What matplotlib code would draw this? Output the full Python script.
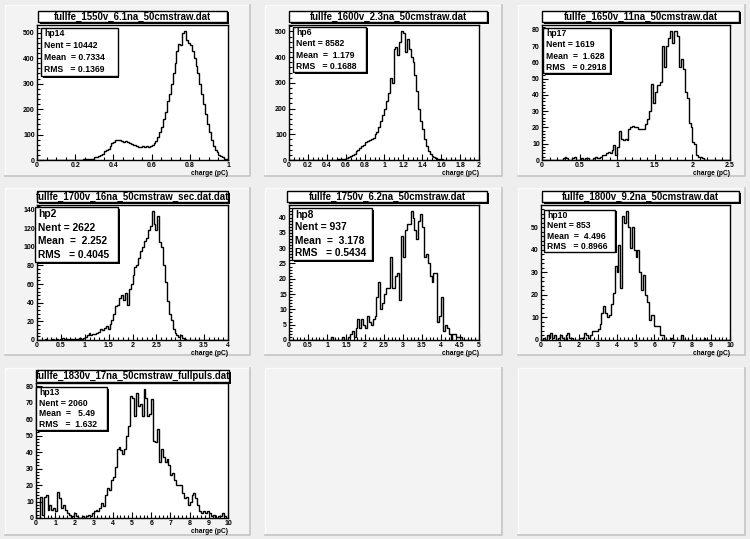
import matplotlib
matplotlib.use("Agg")
import matplotlib.pyplot as plt
import numpy as np
from matplotlib.patches import Rectangle
from matplotlib.lines import Line2D
from matplotlib.ticker import MultipleLocator

plt.rcParams['font.family'] = ['Liberation Sans', 'DejaVu Sans']
plt.rcParams['font.weight'] = 'bold'

W, H = 750, 539

# ---- data (counts per bin, 100 bins each) ----
titles = ["fullfe_1550v_6.1na_50cmstraw.dat",
          "fullfe_1600v_2.3na_50cmstraw.dat",
          "fullfe_1650v_11na_50cmstraw.dat",
          "fullfe_1700v_16na_50cmstraw_sec.dat.dat",
          "fullfe_1750v_6.2na_50cmstraw.dat",
          "fullfe_1800v_9.2na_50cmstraw.dat",
          "fullfe_1830v_17na_50cmstraw_fullpuls.dat"]
names = ["hp14", "hp6", "hp17", "hp2", "hp8", "hp10", "hp13"]
nent = ["10442", "8582", "1619", "2622", "937", "853", "2060"]
means = ["0.7334", " 1.179", " 1.628", " 2.252", " 3.178", " 4.496", "  5.49"]
rms = ["0.1369", "0.1688", "0.2918", "0.4045", "0.5434", "0.8966", " 1.632"]
xmax = [1, 2, 2.5, 4, 5, 10, 10]

hp14 = [0, 0, 0, 0, 0, 0, 0, 0, 0, 0, 0, 0, 0, 0, 0, 0, 0, 0, 0, 1,
        1, 0, 1, 1, 2, 2, 3, 3, 4, 5, 10, 12, 15, 20, 25, 35, 40, 45, 55, 65,
        72, 78, 78, 80, 75, 72, 75, 70, 68, 62, 60, 58, 55, 52, 50, 55, 52, 55, 50, 55,
        60, 65, 75, 90, 110, 130, 160, 190, 230, 260, 300, 340, 380, 430, 455, 450, 500, 505, 470, 460,
        450, 430, 400, 370, 340, 300, 260, 220, 180, 140, 110, 80, 55, 40, 30, 20, 15, 10, 5, 2]
hp6 = [0] * 25 + [1, 2, 1, 3, 5,
       8, 10, 15, 20, 25, 35, 40, 45, 55, 60, 70, 75, 78, 80, 85, 100, 110, 130, 150, 175,
       200, 230, 260, 320, 300, 430, 440, 410, 460, 500, 495, 420, 470, 430, 400, 380, 330, 270, 200, 150,
       120, 80, 55, 35, 25, 15, 12, 8, 5, 3, 2, 1, 0, 0, 0] + [0] * 15
hp17 = [0] * 10 + [0, 1, 2, 1, 0, 0, 1, 2, 0, 0,
        0, 1, 0, 1, 1, 0, 0, 1, 2, 1, 1, 2, 3, 3, 4, 5, 4, 6, 9, 3,
        8, 18, 13, 12, 13, 12, 19, 20, 21, 20, 20, 19, 19, 19, 19, 22,
        25, 30, 47, 35, 42, 46, 46, 48, 70, 57, 70, 75, 79, 72, 79, 79,
        76, 57, 62, 56, 42, 38, 23, 20, 11, 10, 3, 2, 2, 1] + [0] * 14
hp2 = [0, 0, 0, 0, 1, 0, 0, 0, 1, 0, 1, 0, 1, 2, 1, 1, 0, 1, 1, 1,
       1, 1, 2, 1, 2, 3, 5, 8, 5, 6, 6, 8, 9, 12, 11, 13, 15, 12, 17, 22,
       28, 36, 38, 45, 48, 43, 50, 38, 55, 60, 70, 78, 80, 88, 95, 100, 106, 110, 118, 122,
       138, 125, 118, 133, 105, 100, 80, 62, 42, 28, 22, 12, 8, 5, 3, 5, 2, 1, 0, 0] + [0] * 20
hp8 = [0] * 22 + [1, 0, 0, 0, 0, 0, 1, 0, 0, 1,
       2, 3, 1, 4, 7, 4, 7, 5, 4, 8, 6, 5, 7, 8, 14, 19, 10, 12, 15, 17,
       17, 27, 17, 17, 21, 22, 13, 34, 27, 36, 38, 38, 42, 40, 36, 33, 39, 41, 37, 27,
       28, 25, 21, 19, 22, 22, 6, 8, 14, 3, 5, 4, 2, 0, 2, 2, 1, 1, 1, 0] + [0] * 8
hp10 = [0, 1, 0, 2, 1, 3, 1, 2, 0, 1, 2, 1, 0, 2, 3, 1, 1, 0, 0, 0,
        1, 1, 1, 3, 2, 1, 2, 4, 4, 4, 5, 7, 12, 15, 12, 10, 11, 16, 21, 33,
        30, 42, 23, 55, 52, 57, 50, 41, 50, 40, 37, 40, 30, 22, 29, 20, 17, 9, 11, 11,
        6, 6, 6, 2, 2, 0, 0, 0, 0, 1, 0, 0, 0, 0, 2, 0, 0, 0, 0, 0,
        0, 0, 0, 0, 0, 0, 1, 0, 0, 0, 0, 0, 0, 0, 0, 0, 0, 0, 0, 0]
hp13 = [0, 0, 13, 2, 13, 14, 5, 8, 5, 6, 4, 16, 12, 6, 8, 5, 3, 2, 0, 1,
        3, 1, 0, 0, 1, 0, 1, 2, 1, 3, 4, 5, 4, 6, 9, 7, 14, 18, 17, 23,
        25, 31, 42, 43, 41, 39, 42, 50, 56, 74, 73, 62, 76, 68, 69, 62, 78, 73, 62, 63,
        72, 47, 46, 54, 34, 42, 37, 34, 36, 32, 26, 27, 23, 20, 20, 20, 15, 12, 13, 8,
        10, 14, 15, 12, 8, 4, 3, 4, 3, 4, 3, 1, 2, 0, 0, 1, 1, 3, 1, 0]
counts = [hp14, hp6, hp17, hp2, hp8, hp10, hp13]

xstep = [0.2, 0.2, 0.5, 0.5, 0.5, 1, 1]
ystep = [100, 100, 10, 20, 5, 10, 10]

# layout in pixels
pad_cols = [(5, 250), (265, 502), (518, 745)]
pad_rows = [(5, 176), (188, 355), (368, 535)]
frames = [(37, 25, 191, 135), (289, 25, 190, 135), (542, 25, 188, 135),
          (37, 205, 191, 135), (289, 205, 190, 135), (541, 205, 189, 135),
          (36, 383, 192, 135)]
title_boxes = [(38, 11, 227, 22), (289, 11, 487, 22), (542, 11, 739, 22),
               (37, 191, 228, 202), (287, 191, 487, 202), (542, 191, 739, 202),
               (36, 370, 229, 382)]
stat_boxes = [(41, 28, 118, 76), (293, 27, 366, 72), (543, 28, 610, 73),
              (35, 207, 118, 262), (292, 208, 372, 260), (544, 210, 615, 252),
              (36, 387, 107, 430)]
stat_fs = [6.2, 6.2, 6.2, 7.4, 7.4, 6.2, 6.2]


def fr(x, y, w, h):
    return [x / W, 1 - (y + h) / H, w / W, h / H]


def boxed(x0, y0, x1, y1, z=5):
    fig.add_artist(Rectangle(((x0 + 1.5) / W, 1 - (y1 + 1.5) / H), (x1 - x0) / W, (y1 - y0) / H,
                             transform=fig.transFigure, fc='black', ec='none', zorder=z))
    fig.add_artist(Rectangle((x0 / W, 1 - y1 / H), (x1 - x0) / W, (y1 - y0) / H,
                             transform=fig.transFigure, fc='white', ec='black', lw=1.0, zorder=z))


fig = plt.figure(figsize=(W / 100, H / 100), dpi=100, facecolor='#eeeeee')

for (r0, r1) in pad_rows:
    for (c0, c1) in pad_cols:
        fig.add_artist(Rectangle((c0 / W, 1 - r1 / H), (c1 - c0) / W, (r1 - r0) / H,
                                 transform=fig.transFigure, fc='#f3f3f3', ec='none', zorder=-10))
        fig.add_artist(Line2D([c0 / W, c0 / W, c1 / W], [1 - r1 / H, 1 - r0 / H, 1 - r0 / H],
                              transform=fig.transFigure, color='#fbfbfb', lw=1, zorder=-9))
        fig.add_artist(Line2D([c0 / W, c1 / W, c1 / W], [1 - r1 / H, 1 - r1 / H, 1 - r0 / H],
                              transform=fig.transFigure, color='#c4c4c4', lw=1.2, zorder=-9))

for i in range(7):
    x, y, w, h = frames[i]
    ax = fig.add_axes(fr(x, y, w, h))
    ax.set_facecolor('white')
    vals = np.array(counts[i], dtype=float)
    edges = np.linspace(0, xmax[i], len(vals) + 1)
    ax.stairs(vals, edges, color='black', lw=1.0)
    ax.set_xlim(0, xmax[i])
    ax.set_ylim(0, vals.max() * 1.05)
    ax.xaxis.set_major_locator(MultipleLocator(xstep[i]))
    ax.xaxis.set_minor_locator(MultipleLocator(xstep[i] / (4 if xstep[i] == 0.2 else 5)))
    ax.yaxis.set_major_locator(MultipleLocator(ystep[i]))
    ax.yaxis.set_minor_locator(MultipleLocator(ystep[i] / 5))
    ax.tick_params(which='both', direction='in', top=False, right=False, width=0.8,
                   labelsize=5, pad=1.5)
    ax.tick_params(which='major', length=4)
    ax.tick_params(which='minor', length=2)
    ax.xaxis.set_major_formatter(plt.FuncFormatter(lambda v, p: f"{v:g}"))
    ax.yaxis.set_major_formatter(plt.FuncFormatter(lambda v, p: f"{v:g}"))
    for s in ax.spines.values():
        s.set_linewidth(1.0)
    ax.text(1.0, -0.075, "charge (pC)", transform=ax.transAxes, ha='right', va='top',
            fontsize=4.8, fontweight='bold')

    # title box
    tx0, ty0, tx1, ty1 = title_boxes[i]
    boxed(tx0, ty0, tx1, ty1)
    fig.text((tx0 + tx1) / 2 / W, 1 - (ty0 + ty1) / 2 / H, titles[i],
             ha='center', va='center', fontsize=6.9, fontweight='bold', zorder=6)

    # stats box
    bx0, by0, bx1, by1 = stat_boxes[i]
    boxed(bx0, by0, bx1, by1)
    lines = [names[i], "Nent = " + nent[i], "Mean  = " + means[i], "RMS   = " + rms[i]]
    lh = (by1 - by0) / 4
    for k, t in enumerate(lines):
        fig.text((bx0 + 3) / W, 1 - (by0 + lh * (k + 0.5)) / H, t, ha='left', va='center',
                 fontsize=stat_fs[i], fontweight='bold', zorder=6)

fig.savefig("out.png", dpi=100, facecolor=fig.get_facecolor())
